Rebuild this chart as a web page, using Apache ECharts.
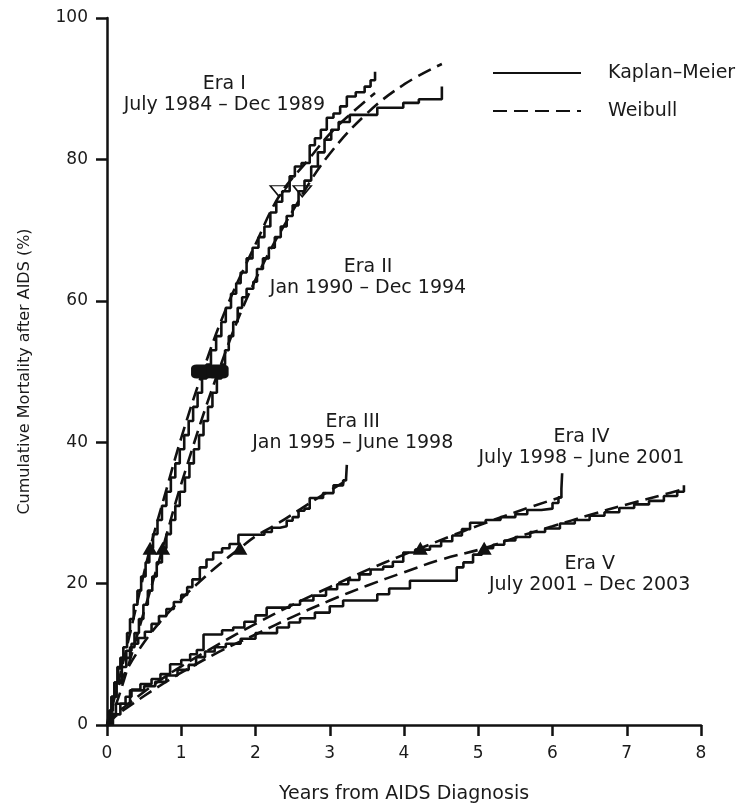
<!DOCTYPE html>
<html><head><meta charset="utf-8">
<script src="https://cdn.jsdelivr.net/npm/echarts@6/dist/echarts.min.js"></script>
<style>html,body{margin:0;padding:0;background:#fff}#c{width:753px;height:809px}</style>
</head><body><div id="c"></div>
<script>
// ---- tick labels ----
const xTickLabels = ['0','1','2','3','4','5','6','7','8'];
const yTickLabels = ['0','20','40','60','80','100'];

// ---- Kaplan–Meier step estimates [years, cumulative mortality %] ----
const km1 = [[0,0],[0.03,2],[0.06,4],[0.1,6],[0.14,8.2],[0.18,9.5],[0.22,11],[0.27,13],[0.31,15],[0.36,17],[0.41,19],[0.46,21],[0.52,23],[0.57,25],[0.62,27],[0.68,29],[0.74,31],[0.8,33],[0.86,35],[0.92,37],[0.98,39],[1.04,41],[1.1,43],[1.16,45],[1.22,47],[1.28,49],[1.34,51],[1.4,53],[1.47,55],[1.54,57],[1.6,59],[1.67,61],[1.74,62.5],[1.8,64],[1.88,66],[1.96,67.5],[2.04,69],[2.12,70.5],[2.2,72.5],[2.28,74],[2.36,75.5],[2.46,77.6],[2.53,79],[2.62,79.5],[2.73,82],[2.8,83],[2.88,84.2],[2.96,85.9],[3.05,86.5],[3.14,87.5],[3.23,88.9],[3.35,89.5],[3.47,90.3],[3.55,91.2],[3.61,92.4]];
const km2 = [[0,0],[0.04,2],[0.08,4],[0.13,6],[0.2,8.2],[0.26,9.5],[0.31,11],[0.37,13],[0.43,15],[0.49,17],[0.55,19],[0.61,21],[0.67,23],[0.74,25],[0.8,27],[0.86,29],[0.92,31],[0.98,33],[1.05,35],[1.11,37],[1.17,39],[1.24,41],[1.3,43],[1.36,45],[1.42,47],[1.48,49],[1.54,51],[1.59,53],[1.64,55],[1.7,57],[1.76,59],[1.82,60.5],[1.88,61.7],[1.97,62.7],[2.02,64.5],[2.1,66],[2.18,67.5],[2.26,69],[2.34,70.5],[2.42,72],[2.5,73.5],[2.58,75.5],[2.66,77],[2.75,79],[2.84,81],[2.93,82.8],[3.02,84.2],[3.12,85.3],[3.27,86.3],[3.64,87.3],[3.99,88],[4.2,88.5],[4.51,90.3]];
const km3 = [[0,0],[0.03,2],[0.06,4],[0.1,6],[0.15,8],[0.2,9.5],[0.26,10.5],[0.33,11.5],[0.42,12.3],[0.51,13.2],[0.6,14.3],[0.7,15.4],[0.8,16.4],[0.9,17.4],[1.0,18.4],[1.08,19.5],[1.15,20.6],[1.25,22.3],[1.34,23.4],[1.43,24.4],[1.55,25],[1.65,25.6],[1.77,26.9],[2.12,27.3],[2.22,27.9],[2.33,28.1],[2.42,28.9],[2.5,29.4],[2.58,30.3],[2.66,30.6],[2.73,32.1],[2.91,32.8],[3.05,33.9],[3.18,34.6],[3.22,34.9],[3.23,36.8]];
const km4 = [[0,0],[0.05,1.5],[0.12,3],[0.25,4],[0.33,5],[0.45,5.8],[0.6,6.5],[0.72,7.2],[0.85,8.6],[1.0,9.2],[1.12,10],[1.21,10.6],[1.3,12.8],[1.55,13.4],[1.7,13.8],[1.85,14.6],[2.0,15.5],[2.15,16.6],[2.46,17],[2.6,17.6],[2.78,18.3],[2.95,19.2],[3.1,19.9],[3.25,20.5],[3.4,21.3],[3.55,22],[3.72,22.4],[3.85,23.1],[3.99,24.4],[4.15,24.8],[4.35,25.3],[4.5,26],[4.65,26.8],[4.78,27.7],[4.89,28.6],[5.1,29],[5.3,29.4],[5.5,29.8],[5.66,30.4],[5.85,30.6],[6.0,31.4],[6.08,32.2],[6.12,33.4],[6.13,35.6]];
const km5 = [[0,0],[0.08,1.5],[0.18,3],[0.31,4.9],[0.5,5.5],[0.65,6.1],[0.8,7],[0.95,7.8],[1.1,8.5],[1.2,9.6],[1.32,10.4],[1.45,11],[1.6,11.5],[1.8,12.2],[2.0,13],[2.29,13.8],[2.45,14.5],[2.6,15.1],[2.8,15.9],[3.0,16.8],[3.18,17.6],[3.64,18.5],[3.8,19.3],[4.08,20.4],[4.71,22.3],[4.8,23],[4.93,24.1],[5.05,25],[5.2,25.5],[5.35,26.1],[5.5,26.6],[5.7,27.3],[5.9,27.8],[6.1,28.5],[6.3,29],[6.5,29.6],[6.7,30.1],[6.9,30.7],[7.1,31.2],[7.3,31.7],[7.5,32.4],[7.68,33],[7.77,33.9]];

// ---- Weibull fitted curves [years, %] ----
const wb1 = [[0,0],[0.1,3.8],[0.25,10.3],[0.4,17],[0.58,25],[0.8,33.3],[1.0,40.6],[1.29,50],[1.6,58.8],[2.0,68],[2.33,75],[2.7,79.8],[3.0,83.6],[3.3,86.6],[3.61,89.4]];
const wb2 = [[0,0],[0.1,2.3],[0.25,7.1],[0.5,16.1],[0.75,25],[1.0,34.1],[1.5,50],[2.0,63],[2.63,75],[3.0,80.8],[3.5,86.5],[4.0,90.6],[4.51,93.5]];
const wb3 = [[0,0],[0.05,2.5],[0.1,4.2],[0.25,7.5],[0.5,11.7],[0.75,15],[1.0,17.8],[1.25,20.3],[1.5,22.6],[1.79,25],[2.0,26.7],[2.3,28.5],[2.6,30.5],[2.9,32.5],[3.23,34.6]];
const wb4 = [[0,0],[0.1,1.4],[0.25,2.7],[0.5,4.7],[0.75,6.6],[1.0,8.3],[1.5,11.4],[2.0,14.3],[2.5,17],[3.0,19.5],[3.5,21.9],[4.0,24.1],[4.22,25],[4.6,26.6],[5.0,28.2],[5.5,30.1],[6.13,32.3]];
const wb5 = [[0,0],[0.1,1.1],[0.25,2.3],[0.5,4.1],[0.75,5.8],[1.0,7.4],[1.5,10.3],[2.0,12.8],[2.5,15.3],[3.0,17.6],[3.5,19.7],[4.0,21.6],[4.5,23.4],[5.08,25],[5.5,26.5],[6.0,28.1],[6.5,29.7],[7.0,31.2],[7.5,32.6],[7.78,33.4]];

// ---- quartile markers [years, %] ----
const q25 = [[0.58,25],[0.75,25],[1.79,25],[4.22,25],[5.08,25]];
const q50 = [[1.28,50],[1.49,50]];
const q75 = [[2.32,75.5],[2.63,75.5]];

// ---- era annotations ----
const eraNames = ['Era I','Era II','Era III','Era IV','Era V'];
const eraPeriods = ['July 1984 \u2013 Dec 1989','Jan 1990 \u2013 Dec 1994','Jan 1995 \u2013 June 1998','July 1998 \u2013 June 2001','July 2001 \u2013 Dec 2003'];
const eraLabelAt = [[1.58,89.2],[3.515,63.3],[3.31,41.3],[6.39,39.3],[6.5,21.3]];

const kmName = 'Kaplan\u2013Meier';
const wbName = 'Weibull';
const FONT = 'DejaVu Sans';
const INK = '#111';
const TXT = '#1a1a1a';
const LW = 2.6;

const kmSets = [km1, km2, km3, km4, km5];
const wbSets = [wb1, wb2, wb3, wb4, wb5];

const series = [];
kmSets.forEach(d => series.push({
  name: kmName, type: 'line', data: d, step: 'end', symbol: 'none',
  lineStyle: {color: INK, width: LW}, itemStyle: {color: INK}, z: 3
}));
wbSets.forEach(d => series.push({
  name: wbName, type: 'line', data: d, smooth: 0.4, symbol: 'none',
  lineStyle: {color: INK, width: LW, type: [14, 7]}, itemStyle: {color: INK}, z: 3
}));
series.push({type: 'scatter', data: q25, symbol: 'triangle', symbolSize: [15, 13],
  itemStyle: {color: INK, opacity: 1}, z: 5, silent: true});
series.push({type: 'scatter', data: q50, symbol: 'roundRect', symbolSize: [22, 14],
  itemStyle: {color: INK, opacity: 1}, z: 5, silent: true});
series.push({type: 'scatter', data: q75, symbol: 'triangle', symbolRotate: 180, symbolSize: [18, 11],
  itemStyle: {color: 'transparent', borderColor: INK, borderWidth: 1.5, opacity: 1}, z: 5, silent: true});
series.push({type: 'scatter', data: eraLabelAt.map((p, i) => [p[0], p[1], i]),
  symbolSize: 1, itemStyle: {color: 'rgba(0,0,0,0)', opacity: 1}, z: 6, silent: true,
  label: {show: true, position: 'inside', align: 'center', verticalAlign: 'middle',
    formatter: p => eraNames[p.data[2]] + '\n' + eraPeriods[p.data[2]],
    fontFamily: FONT, fontSize: 19, lineHeight: 21, color: TXT, opacity: 1}});

const chart = echarts.init(document.getElementById('c'), null, {renderer: 'canvas'});
chart.setOption({
  animation: false,
  backgroundColor: '#fff',
  grid: {left: 107, right: 52, top: 18, bottom: 81, containLabel: false},
  legend: {
    data: [kmName, wbName], orient: 'vertical', left: 487, top: 58,
    itemWidth: 88, itemHeight: 20, itemGap: 18, selectedMode: false,
    itemStyle: {opacity: 0},
    textStyle: {fontFamily: FONT, fontSize: 19, color: TXT, lineHeight: 20, padding: [0, 0, 0, 22]}
  },
  xAxis: {
    type: 'value', min: 0, max: 8, interval: 1,
    name: 'Years from AIDS Diagnosis', nameLocation: 'middle', nameGap: 60,
    nameTextStyle: {fontFamily: FONT, fontSize: 19, color: TXT},
    axisLine: {show: true, lineStyle: {color: INK, width: 2.5}},
    axisTick: {show: true, length: 11, lineStyle: {color: INK, width: 2.5}},
    axisLabel: {margin: 20, fontFamily: FONT, fontSize: 17, color: TXT,
      formatter: v => xTickLabels[Math.round(v)]},
    splitLine: {show: false}
  },
  yAxis: {
    type: 'value', min: 0, max: 100, interval: 20,
    name: 'Cumulative Mortality after AIDS (%)', nameLocation: 'middle', nameGap: 74, nameRotate: 90,
    nameTextStyle: {fontFamily: FONT, fontSize: 16, color: TXT},
    axisLine: {show: true, lineStyle: {color: INK, width: 2.5}},
    axisTick: {show: true, length: 11, lineStyle: {color: INK, width: 2.5}},
    axisLabel: {margin: 19, fontFamily: FONT, fontSize: 17, color: TXT,
      formatter: v => yTickLabels[Math.round(v / 20)]},
    splitLine: {show: false}
  },
  series: series
});
</script>
</body></html>
